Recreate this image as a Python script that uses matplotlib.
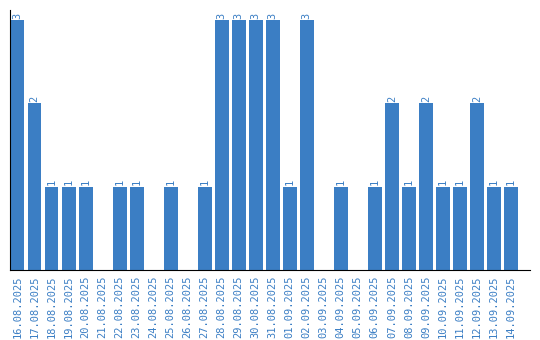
import matplotlib
matplotlib.use("Agg")
import matplotlib.pyplot as plt
import numpy as np

dates = ['16.08.2025', '17.08.2025', '18.08.2025', '19.08.2025', '20.08.2025',
         '21.08.2025', '22.08.2025', '23.08.2025', '24.08.2025', '25.08.2025',
         '26.08.2025', '27.08.2025', '28.08.2025', '29.08.2025', '30.08.2025',
         '31.08.2025', '01.09.2025', '02.09.2025', '03.09.2025', '04.09.2025',
         '05.09.2025', '06.09.2025', '07.09.2025', '08.09.2025', '09.09.2025',
         '10.09.2025', '11.09.2025', '12.09.2025', '13.09.2025', '14.09.2025']
counts = [3, 2, 1, 1, 1, 0, 1, 1, 0, 1, 0, 1, 3, 3, 3, 3, 1, 3, 0, 1,
          0, 1, 2, 1, 2, 1, 1, 2, 1, 1]

blue = '#3b7ec4'

fig = plt.figure(figsize=(5.4, 3.4), dpi=100)
ax = fig.add_axes([0.0185, 0.206, 0.9625, 0.764])

x = np.arange(len(dates))
ax.bar(x, counts, width=0.82, color=blue)

for xi, c in zip(x, counts):
    if c > 0:
        ax.text(xi, c + 0.02, str(c), rotation=90, ha='center', va='bottom',
                color=blue, fontsize=7.5, family='DejaVu Sans Mono')

ax.set_xticks(x)
ax.set_xticklabels(dates, rotation=90, color=blue, fontsize=7.5,
                   family='DejaVu Sans Mono')
ax.tick_params(axis='x', length=0, pad=4)
ax.set_yticks([])
ax.set_xlim(-0.44, 30.1)
ax.set_ylim(0, 3.12)
ax.spines['top'].set_visible(False)
ax.spines['right'].set_visible(False)

fig.savefig('out.png', dpi=100)
